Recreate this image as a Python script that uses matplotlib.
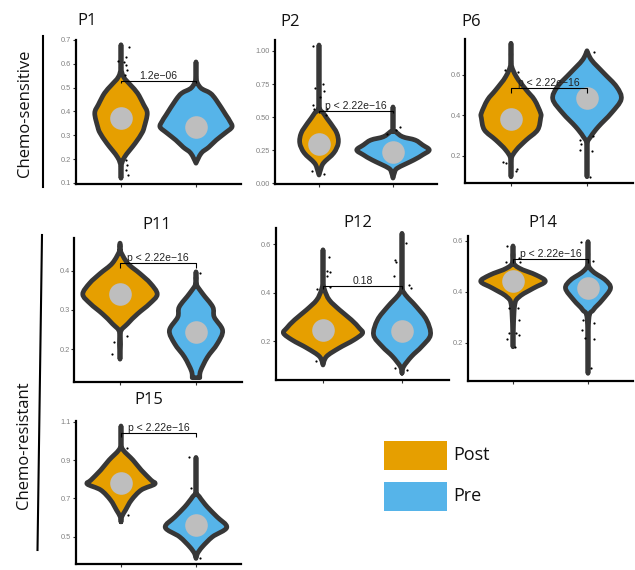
import numpy as np
import matplotlib
matplotlib.use("Agg")
import matplotlib.pyplot as plt
from matplotlib.path import Path
from matplotlib.patches import PathPatch, Rectangle

# ---------------- data ----------------
groups = ["Post", "Pre"]
group_colors = ["#E69F00", "#56B4E9"]
panels = ["P1", "P2", "P6", "P11", "P12", "P14", "P15"]
row_labels = ["Chemo-sensitive", "Chemo-resistant"]

# violin outlines: (value, half-width in category units)
P1_post = [(0.12, 0), (0.167, 0), (0.208, 0.046), (0.267, 0.19), (0.31, 0.28), (0.335, 0.31),
           (0.393, 0.35), (0.43, 0.30), (0.477, 0.22), (0.51, 0.13), (0.545, 0.035), (0.587, 0), (0.68, 0)]
P1_pre = [(0.183, 0), (0.225, 0.07), (0.25, 0.17), (0.28, 0.27), (0.31, 0.39), (0.335, 0.48),
          (0.36, 0.45), (0.385, 0.40), (0.448, 0.27), (0.477, 0.19), (0.50, 0.06), (0.54, 0), (0.608, 0)]
P2_post = [(0.063, 0), (0.10, 0.02), (0.153, 0.06), (0.23, 0.20), (0.305, 0.26), (0.38, 0.24),
           (0.455, 0.155), (0.53, 0.06), (0.606, 0), (1.045, 0)]
P2_pre = [(0.04, 0), (0.08, 0.02), (0.115, 0.06), (0.176, 0.28), (0.215, 0.40), (0.252, 0.49),
          (0.29, 0.40), (0.327, 0.30), (0.352, 0.13), (0.39, 0.035), (0.41, 0), (0.577, 0)]
P6_post = [(0.096, 0), (0.18, 0), (0.228, 0.07), (0.277, 0.20), (0.327, 0.35), (0.386, 0.39),
           (0.41, 0.39), (0.475, 0.31), (0.525, 0.20), (0.59, 0.07), (0.657, 0), (0.755, 0)]
P6_pre = [(0.096, 0), (0.25, 0), (0.294, 0.05), (0.343, 0.15), (0.41, 0.32), (0.479, 0.45),
          (0.54, 0.39), (0.608, 0.22), (0.672, 0.06), (0.718, 0)]
P11_post = [(0.175, 0), (0.24, 0), (0.265, 0.10), (0.29, 0.23), (0.316, 0.39), (0.34, 0.49),
            (0.368, 0.40), (0.393, 0.26), (0.419, 0.10), (0.453, 0), (0.47, 0)]
P11_pre = [(0.128, 0.05), (0.145, 0.06), (0.18, 0.15), (0.214, 0.28), (0.248, 0.35), (0.282, 0.24),
           (0.308, 0.22), (0.342, 0.085), (0.368, 0), (0.397, 0)]
P12_post = [(0.102, 0), (0.137, 0.045), (0.171, 0.20), (0.205, 0.39), (0.233, 0.50), (0.254, 0.46),
            (0.288, 0.36), (0.329, 0.21), (0.37, 0.08), (0.412, 0.02), (0.453, 0), (0.577, 0)]
P12_pre = [(0.068, 0), (0.095, 0.02), (0.137, 0.12), (0.178, 0.25), (0.226, 0.36), (0.288, 0.31),
           (0.343, 0.18), (0.398, 0.03), (0.44, 0), (0.645, 0)]
P14_post = [(0.184, 0), (0.341, 0.02), (0.38, 0.085), (0.413, 0.27), (0.44, 0.43), (0.465, 0.31),
            (0.492, 0.085), (0.518, 0), (0.579, 0)]
P14_pre = [(0.08, 0), (0.289, 0.01), (0.328, 0.07), (0.367, 0.19), (0.413, 0.30), (0.446, 0.23),
           (0.478, 0.07), (0.511, 0), (0.596, 0)]
P15_post = [(0.578, 0), (0.604, 0.01), (0.639, 0.06), (0.692, 0.14), (0.744, 0.27), (0.775, 0.45),
            (0.796, 0.40), (0.848, 0.27), (0.90, 0.16), (0.952, 0.03), (0.987, 0), (1.078, 0)]
P15_pre = [(0.387, 0), (0.413, 0.02), (0.448, 0.085), (0.50, 0.22), (0.549, 0.41), (0.604, 0.28),
           (0.656, 0.15), (0.709, 0.045), (0.744, 0), (0.914, 0)]

# jittered outlying cells: (x offset, value)
P1_post_pts = [(0.10, 0.672), (0.06, 0.63), (0.045, 0.609), (-0.04, 0.61), (0.07, 0.595), (0.08, 0.574),
               (0.05, 0.553), (0.07, 0.196), (0.08, 0.175), (0.06, 0.154), (0.09, 0.133)]
P1_pre_pts = []
P2_post_pts = [(-0.077, 1.04), (-0.054, 0.718), (0.05, 0.75), (0.068, 0.70), (0.02, 0.655), (-0.085, 0.59),
               (-0.063, 0.56), (0.095, 0.516), (0.11, 0.565), (-0.1, 0.095), (0.07, 0.07)]
P2_pre_pts = [(0.1, 0.428), (0.045, 0.40), (-0.08, 0.37)]
P6_post_pts = [(-0.083, 0.623), (0.09, 0.615), (-0.06, 0.162), (-0.1, 0.17), (0.08, 0.135), (0.06, 0.125)]
P6_pre_pts = [(0.088, 0.714), (-0.096, 0.278), (-0.075, 0.256), (0.08, 0.295), (-0.096, 0.228),
              (0.066, 0.224), (0.044, 0.096)]
P11_post_pts = [(0.088, 0.235), (-0.08, 0.218), (-0.1, 0.187)]
P11_pre_pts = [(0.05, 0.393)]
P12_post_pts = [(0.072, 0.546), (0.05, 0.49), (0.09, 0.487), (0.05, 0.47), (0.09, 0.425), (-0.075, 0.414),
                (-0.085, 0.119)]
P12_pre_pts = [(0.05, 0.607), (-0.09, 0.535), (-0.07, 0.527), (-0.1, 0.47), (0.093, 0.43), (0.12, 0.42),
               (-0.09, 0.088), (0.06, 0.08)]
P14_post_pts = [(-0.08, 0.577), (-0.1, 0.518), (0.075, 0.53), (0.095, 0.518), (-0.057, 0.335), (0.062, 0.335),
                (0.083, 0.289), (-0.057, 0.237), (0.044, 0.237), (-0.08, 0.213), (0.075, 0.23), (0.03, 0.184)]
P14_pre_pts = [(-0.088, 0.596), (0.066, 0.52), (-0.066, 0.289), (0.075, 0.279), (-0.075, 0.25),
               (-0.044, 0.217), (0.075, 0.213), (0.044, 0.1)]
P15_post_pts = [(0.08, 0.961), (0.088, 0.613)]
P15_pre_pts = [(-0.088, 0.914), (-0.07, 0.757), (0.053, 0.387)]

means_post = [0.372, 0.297, 0.381, 0.34, 0.247, 0.44, 0.782]
means_pre = [0.335, 0.237, 0.483, 0.244, 0.244, 0.413, 0.561]

pvalues = ["1.2e\u221206", "p < 2.22e\u221216", "p < 2.22e\u221216", "p < 2.22e\u221216",
           "0.18", "p < 2.22e\u221216", "p < 2.22e\u221216"]
bracket_y = [0.528, 0.549, 0.534, 0.419, 0.428, 0.527, 1.04]
bracket_tip = [0.518, 0.53, 0.511, 0.408, 0.414, 0.511, 1.019]

y_ticks = [[0.1, 0.2, 0.3, 0.4, 0.5, 0.6, 0.7],
           [0.0, 0.25, 0.5, 0.75, 1.0],
           [0.2, 0.4, 0.6],
           [0.2, 0.3, 0.4],
           [0.2, 0.4, 0.6],
           [0.2, 0.4, 0.6],
           [0.5, 0.7, 0.9, 1.1]]
y_fmt = ["{:.1f}", "{:.2f}", "{:.1f}", "{:.1f}", "{:.1f}", "{:.1f}", "{:.1f}"]
y_lims = [(0.0957, 0.70), (-0.005, 1.083), (0.065, 0.776), (0.117, 0.483),
          (0.04, 0.667), (0.05, 0.618), (0.358, 1.104)]

violins = [(P1_post, P1_pre), (P2_post, P2_pre), (P6_post, P6_pre), (P11_post, P11_pre),
           (P12_post, P12_pre), (P14_post, P14_pre), (P15_post, P15_pre)]
jitter = [(P1_post_pts, P1_pre_pts), (P2_post_pts, P2_pre_pts), (P6_post_pts, P6_pre_pts),
          (P11_post_pts, P11_pre_pts), (P12_post_pts, P12_pre_pts), (P14_post_pts, P14_pre_pts),
          (P15_post_pts, P15_pre_pts)]

# ---------------- layout (pixels) ----------------
W, H = 635, 570
# (x of category 1, x of category 2, panel top, panel bottom)
boxes = [(121, 196, 40, 184), (319, 393, 40, 184), (511, 587, 39, 183),
         (120, 196, 238, 382), (323, 402, 228, 380), (513, 588, 236, 381),
         (121, 196, 421, 564)]
# title anchor (x, y, ha)
title_pos = [(77, 21, "left"), (280, 22, "left"), (461, 22, "left"),
             (157, 225, "center"), (358, 223, "center"), (543, 223, "center"),
             (149, 400, "center")]

OUTLINE = "#373737"
TITLE_FONT = ["Open Sans", "DejaVu Sans"]
SMALL_FONT = ["Liberation Sans", "DejaVu Sans"]

fig = plt.figure(figsize=(W / 100, H / 100), dpi=100)
fig.patch.set_facecolor("white")

ov = fig.add_axes([0, 0, 1, 1])
ov.set_xlim(0, W)
ov.set_ylim(H, 0)
ov.axis("off")


def violin_path(xc, prof):
    """Closed outline through the profile points, drawn as a Catmull-Rom curve."""
    ys = np.array([p[0] for p in prof], dtype=float)
    hw = np.array([p[1] for p in prof], dtype=float)
    right = np.column_stack([xc + hw, ys])
    left = np.column_stack([xc - hw, ys])[::-1]
    pts = np.vstack([right, left])
    n = len(pts)
    m = len(prof)
    tang = np.zeros_like(pts)
    for i in range(n):
        if i in (0, m - 1, m, n - 1):   # tips: keep flat
            continue
        tang[i] = (pts[(i + 1) % n] - pts[i - 1]) / 2.0
    verts = [pts[0]]
    codes = [Path.MOVETO]
    for i in range(n):
        j = (i + 1) % n
        verts += [pts[i] + tang[i] / 3.0, pts[j] - tang[j] / 3.0, pts[j]]
        codes += [Path.CURVE4] * 3
    verts.append(pts[0]); codes.append(Path.CLOSEPOLY)
    return Path(verts, codes)


for i, name in enumerate(panels):
    c1, c2, top, bot = boxes[i]
    unit = c2 - c1
    left = c1 - 0.6 * unit
    right = c2 + 0.6 * unit
    ax = fig.add_axes([left / W, 1 - bot / H, (right - left) / W, (bot - top) / H])
    ax.set_facecolor("none")
    ax.set_xlim(0.4, 2.6)
    ax.set_ylim(*y_lims[i])

    for g in range(2):
        xc = g + 1
        patch = PathPatch(violin_path(xc, violins[i][g]), facecolor=group_colors[g],
                          edgecolor=OUTLINE, lw=3.4, joinstyle="round", capstyle="round", zorder=2)
        ax.add_patch(patch)
        pts = jitter[i][g]
        if pts:
            ax.scatter([xc + p[0] for p in pts], [p[1] for p in pts], s=2.5, color="black",
                       zorder=4, linewidths=0)
    ax.scatter([1, 2], [means_post[i], means_pre[i]], s=265, color="#BEBEBE", zorder=5, linewidths=0)

    # comparison bracket
    ax.plot([1, 1, 2, 2], [bracket_tip[i], bracket_y[i], bracket_y[i], bracket_tip[i]],
            color="black", lw=0.8, zorder=6, solid_capstyle="butt")
    ax.text(1.5, bracket_y[i], pvalues[i], ha="center", va="bottom", fontsize=7.5,
            family=SMALL_FONT, color="#222222", zorder=7)

    ax.set_yticks(y_ticks[i])
    ax.set_yticklabels([y_fmt[i].format(v) for v in y_ticks[i]])
    ax.set_xticks([1, 2])
    ax.set_xticklabels(["", ""])
    for s in ["top", "right"]:
        ax.spines[s].set_visible(False)
    for s in ["left", "bottom"]:
        ax.spines[s].set_linewidth(1.6)
        ax.spines[s].set_color("black")
        ax.spines[s].set_capstyle("projecting")
    ax.tick_params(axis="y", length=2, width=0.8, color="#333333", pad=1.5,
                   labelsize=5.3, labelcolor="#808080")
    ax.tick_params(axis="x", length=2, width=0.8, color="#333333", pad=1)
    for lab in ax.get_yticklabels():
        lab.set_family(SMALL_FONT)

    tx, ty, ha = title_pos[i]
    ov.text(tx, ty, name, ha=ha, va="center", fontsize=12, family=TITLE_FONT, color="#111111")

# row labels and their bars
ov.text(25, 113, row_labels[0], rotation=90, ha="center", va="center", fontsize=12,
        family=TITLE_FONT, color="#111111")
ov.plot([43, 43], [36, 187], color="black", lw=1.5)
ov.text(24, 445, row_labels[1], rotation=90, ha="center", va="center", fontsize=12,
        family=TITLE_FONT, color="#111111")
ov.plot([42, 37.5], [235, 550], color="black", lw=1.5)

# legend
leg_y = [441, 482]
for g in range(2):
    ov.add_patch(Rectangle((384, leg_y[g]), 63, 28.5, facecolor=group_colors[g], edgecolor="none"))
    ov.text(453, leg_y[g] + 14, groups[g], ha="left", va="center", fontsize=13,
            family=TITLE_FONT, color="#111111")

fig.savefig("out.png", dpi=100, facecolor="white")
